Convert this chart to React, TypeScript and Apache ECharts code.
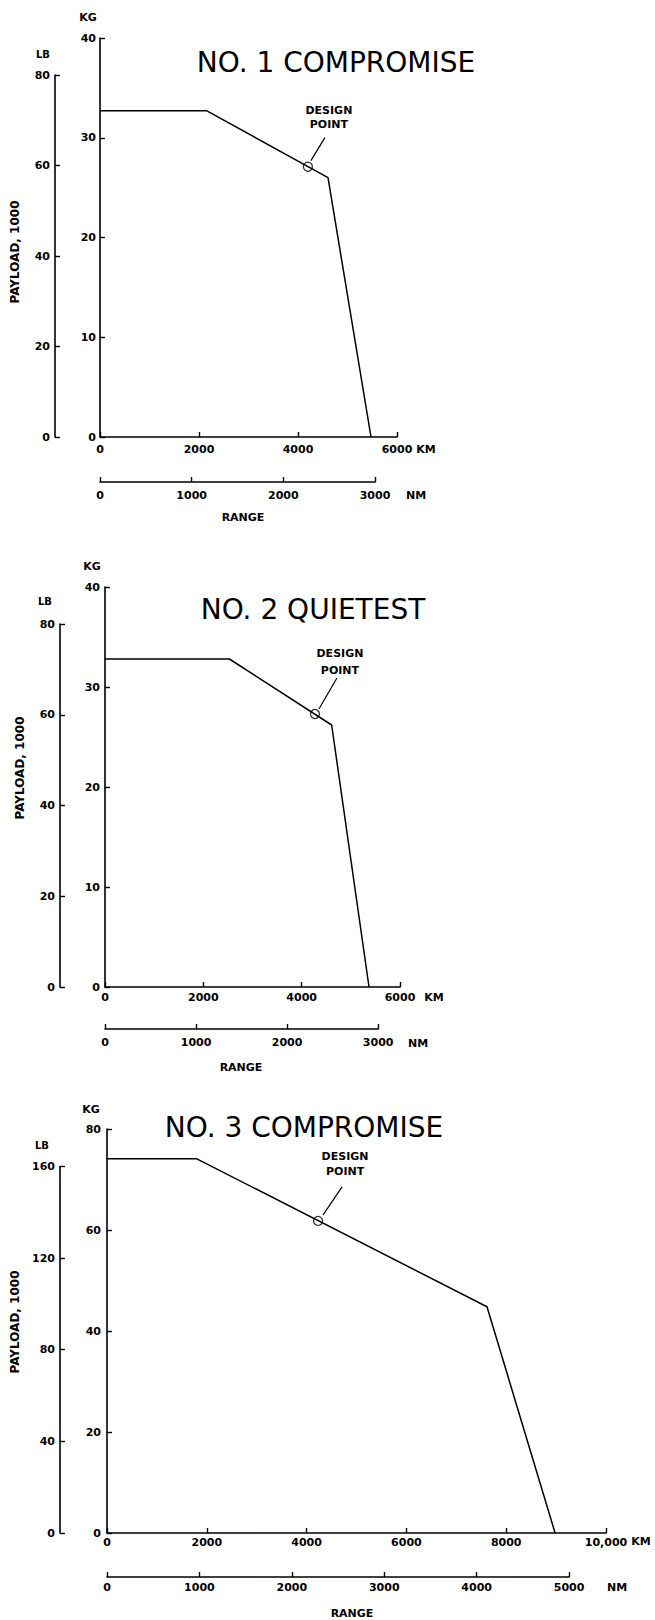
import React, { useEffect, useRef } from "react";
import * as echarts from "echarts";

// ---- Data ----
const titles = ["NO. 1 COMPROMISE", "NO. 2 QUIETEST", "NO. 3 COMPROMISE"];

// Payload-range envelopes (range in km, payload in kg)
const range1Km = [0, 2160, 4606, 5475];
const payload1Kg = [32.7, 32.7, 26.0, 0];
const range2Km = [0, 2530, 4610, 5370];
const payload2Kg = [32.8, 32.8, 26.2, 0];
const range3Km = [0, 1800, 7615, 8980];
const payload3Kg = [74.1, 74.1, 44.8, 0];

const envelopesKm = [range1Km, range2Km, range3Km];
const envelopesKg = [payload1Kg, payload2Kg, payload3Kg];

// Design points
const designKm = [4200, 4270, 4230];
const designKg = [27.1, 27.3, 61.8];

// Axis scales
const kgMax = [40, 40, 80];
const kgStep = [10, 10, 20];
const lbMax = [80, 80, 160];
const lbStep = [20, 20, 40];
const kmMax = [6000, 6000, 10000];
const kmStep = [2000, 2000, 2000];
const nmMax = [3000, 3000, 5000];
const nmStep = [1000, 1000, 1000];

const LB_PER_KG = 2.20462;
const KM_PER_NM = 1.852;

// ---- Layout (pixels) ----
const FONT = '"DejaVu Sans", sans-serif';
const layout = [
  {
    x0: 100, y0: 437, yTop: 38, xEnd: 397, lbX: 55, nmY: 482,
    kgLabelMargin: 4, kmLabelMargin: 7, nmLabelMargin: 8,
    title: [336, 62], kg: [88, 17], lb: [43, 54], payload: [15, 252],
    km: [426, 449], nm: [416, 495], range: [243, 517],
    design: { dx: 21, dy1: -56, dy2: -42, line: [17, -29, 3, -6] },
  },
  {
    x0: 105, y0: 987, yTop: 587, xEnd: 400, lbX: 60, nmY: 1029,
    kgLabelMargin: 5, kmLabelMargin: 5, nmLabelMargin: 8,
    title: [313, 609], kg: [92, 566], lb: [45, 601], payload: [20, 768],
    km: [434, 997], nm: [418, 1043], range: [241, 1067],
    design: { dx: 25, dy1: -61, dy2: -44, line: [22, -36, 4, -5] },
  },
  {
    x0: 107, y0: 1533, yTop: 1129, xEnd: 606, lbX: 60, nmY: 1577,
    kgLabelMargin: 6, kmLabelMargin: 4, nmLabelMargin: 5,
    title: [304, 1127], kg: [91, 1109], lb: [42, 1145], payload: [15, 1322],
    km: [641, 1541], nm: [617, 1587], range: [352, 1613],
    design: { dx: 27, dy1: -64, dy2: -49, line: [24, -34, 5, -6] },
  },
];

const plain = (v: number) => (v >= 10000 ? "10,000" : String(v));

const labelStyle = (margin: number) => ({
  color: "#000",
  fontFamily: FONT,
  fontWeight: "bold",
  fontSize: 11,
  margin,
  formatter: plain,
});

const baseAxis = (extra: any) => ({
  type: "value",
  axisLine: { show: true, onZero: false, lineStyle: { color: "#000", width: 1.6 } },
  axisTick: { show: true, inside: true, length: 5, lineStyle: { color: "#000", width: 1.4 } },
  splitLine: { show: false },
  ...extra,
});

const hiddenAxis = (extra: any) => ({
  type: "value",
  show: false,
  min: 0,
  max: 1,
  splitLine: { show: false },
  ...extra,
});

function txt(x: number, y: number, text: string, size: number, weight: string, extra: any = {}) {
  return {
    type: "text",
    x,
    y,
    silent: true,
    ...extra,
    style: {
      text,
      fill: "#000",
      fontFamily: FONT,
      fontSize: size,
      fontWeight: weight,
      textAlign: "center",
      textVerticalAlign: "middle",
    },
  };
}

export default function App() {
  const ref = useRef<HTMLDivElement>(null);

  useEffect(() => {
    document.body.style.margin = "0";
    if (!ref.current) return;
    const chart = echarts.init(ref.current, null, { renderer: "svg" });

    const grid: any[] = [];
    const xAxis: any[] = [];
    const yAxis: any[] = [];
    const series: any[] = [];

    layout.forEach((L, i) => {
      const mainH = L.y0 - L.yTop;
      const mainW = L.xEnd - L.x0;
      // main grid (KM x KG)
      grid.push({ left: L.x0, top: L.yTop, width: mainW, height: mainH, outerBoundsMode: "none", containLabel: false });
      // LB grid
      const lbTop = L.y0 - ((lbMax[i] / LB_PER_KG) / kgMax[i]) * mainH;
      grid.push({ left: L.lbX, top: lbTop, width: 1, height: L.y0 - lbTop, outerBoundsMode: "none", containLabel: false });
      // NM grid
      const nmW = ((nmMax[i] * KM_PER_NM) / kmMax[i]) * mainW;
      grid.push({ left: L.x0, top: L.nmY - 10, width: nmW, height: 10, outerBoundsMode: "none", containLabel: false });

      xAxis.push(
        baseAxis({
          gridIndex: 3 * i,
          min: 0,
          max: kmMax[i],
          interval: kmStep[i],
          axisLabel: labelStyle(L.kmLabelMargin),
        })
      );
      xAxis.push(hiddenAxis({ gridIndex: 3 * i + 1 }));
      xAxis.push(
        baseAxis({
          gridIndex: 3 * i + 2,
          position: "bottom",
          min: 0,
          max: nmMax[i],
          interval: nmStep[i],
          axisLabel: labelStyle(L.nmLabelMargin),
        })
      );

      yAxis.push(
        baseAxis({
          gridIndex: 3 * i,
          min: 0,
          max: kgMax[i],
          interval: kgStep[i],
          axisLabel: labelStyle(L.kgLabelMargin),
        })
      );
      yAxis.push(
        baseAxis({
          gridIndex: 3 * i + 1,
          min: 0,
          max: lbMax[i],
          interval: lbStep[i],
          axisLabel: labelStyle(5),
        })
      );
      yAxis.push(hiddenAxis({ gridIndex: 3 * i + 2 }));

      series.push({
        type: "line",
        xAxisIndex: 3 * i,
        yAxisIndex: 3 * i,
        data: envelopesKm[i].map((x, j) => [x, envelopesKg[i][j]]),
        symbol: "none",
        silent: true,
        lineStyle: { color: "#000", width: 1.5 },
      });
      series.push({
        type: "scatter",
        xAxisIndex: 3 * i,
        yAxisIndex: 3 * i,
        data: [[designKm[i], designKg[i]]],
        symbol: "circle",
        symbolSize: 9,
        silent: true,
        itemStyle: { color: "rgba(0,0,0,0)", borderColor: "#000", borderWidth: 1.3 },
      });
    });

    chart.setOption({
      animation: false,
      backgroundColor: "#fff",
      grid,
      xAxis,
      yAxis,
      series,
    });

    const graphic: any[] = [];
    layout.forEach((L, i) => {
      graphic.push(txt(L.title[0], L.title[1], titles[i], 28, "normal"));
      graphic.push(txt(L.kg[0], L.kg[1], "KG", 11, "bold"));
      graphic.push(txt(L.lb[0], L.lb[1], "LB", 10, "bold"));
      graphic.push(txt(L.payload[0], L.payload[1], "PAYLOAD, 1000", 12, "bold", { rotation: Math.PI / 2 }));
      graphic.push(txt(L.km[0], L.km[1], "KM", 11, "bold"));
      graphic.push(txt(L.nm[0], L.nm[1], "NM", 11, "bold"));
      graphic.push(txt(L.range[0], L.range[1], "RANGE", 11, "bold"));

      const p = chart.convertToPixel({ seriesIndex: 2 * i + 1 }, [designKm[i], designKg[i]]) as number[];
      if (p && p.length === 2) {
        const d = L.design;
        graphic.push(txt(p[0] + d.dx, p[1] + d.dy1, "DESIGN", 11, "bold"));
        graphic.push(txt(p[0] + d.dx, p[1] + d.dy2, "POINT", 11, "bold"));
        graphic.push({
          type: "line",
          silent: true,
          shape: { x1: p[0] + d.line[0], y1: p[1] + d.line[1], x2: p[0] + d.line[2], y2: p[1] + d.line[3] },
          style: { stroke: "#000", lineWidth: 1.2 },
        });
      }
    });

    chart.setOption({ graphic });

    return () => {
      chart.dispose();
    };
  }, []);

  return <div ref={ref} style={{ width: 655, height: 1620 }} />;
}
